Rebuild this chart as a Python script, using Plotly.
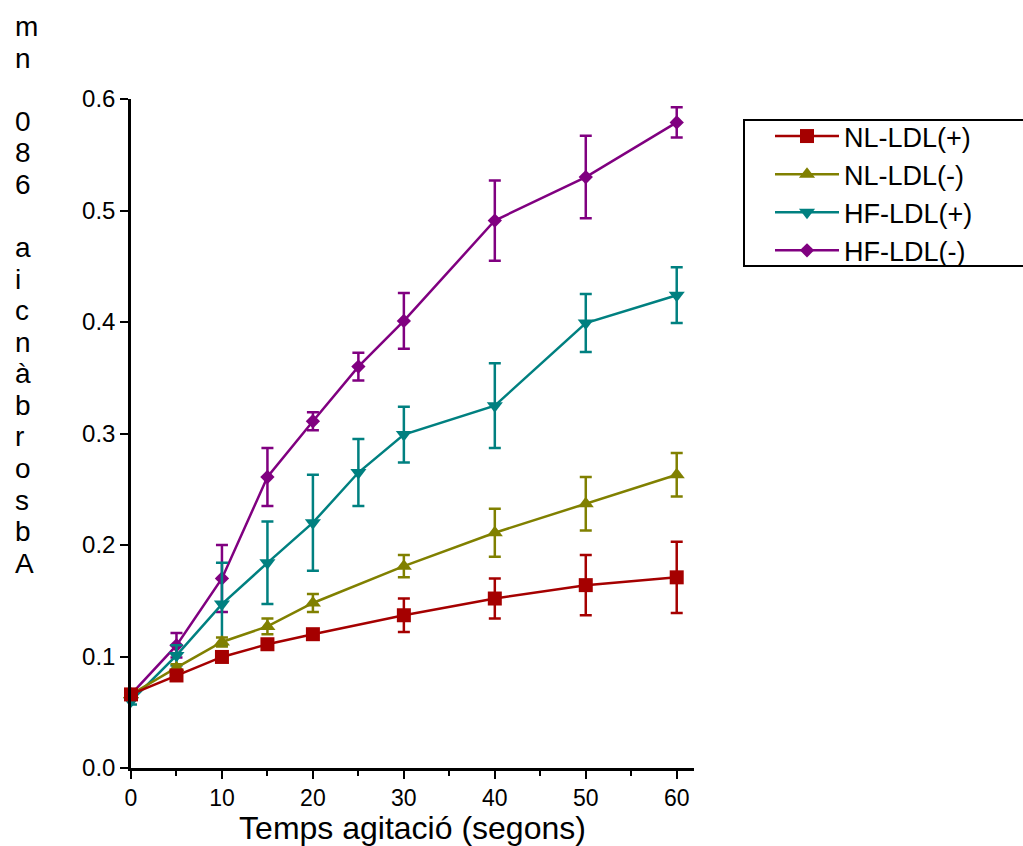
import plotly.graph_objects as go

# ---- data ----
x_nl = [0, 5, 10, 15, 20, 30, 40, 50, 60]
x_hf = [0, 5, 10, 15, 20, 25, 30, 40, 50, 60]

nl_pos = [0.066, 0.083, 0.0996, 0.111, 0.120, 0.137, 0.152, 0.164, 0.171]
nl_pos_err = [0.003, 0.003, 0.003, 0.003, 0.004, 0.015, 0.018, 0.027, 0.032]

nl_neg = [0.066, 0.090, 0.113, 0.127, 0.148, 0.181, 0.211, 0.237, 0.263]
nl_neg_err = [0.003, 0.003, 0.004, 0.007, 0.008, 0.010, 0.0215, 0.024, 0.0195]

hf_pos = [0.060, 0.101, 0.147, 0.184, 0.220, 0.265, 0.299, 0.325, 0.399, 0.424]
hf_pos_err = [0.003, 0.009, 0.037, 0.037, 0.043, 0.030, 0.025, 0.038, 0.026, 0.025]

hf_neg = [0.066, 0.110, 0.170, 0.261, 0.311, 0.360, 0.401, 0.491, 0.530, 0.579]
hf_neg_err = [0.003, 0.011, 0.030, 0.026, 0.008, 0.0125, 0.025, 0.036, 0.037, 0.0135]

names = ["NL-LDL(+)", "NL-LDL(-)", "HF-LDL(+)", "HF-LDL(-)"]
colors = ["#a50000", "#808000", "#008080", "#800080"]
symbols = ["square", "triangle-up", "triangle-down", "diamond"]
msizes = [14, 14, 14, 11]

y_title_chars = ["m", "n", " ", "0", "8", "6", " ", "a", "i", "c", "n", "à", "b", "r", "o", "s", "b", "A"]
x_title = "Temps agitació (segons)"

FONT = "Liberation Sans, Arial, sans-serif"

series = [
    (x_nl, nl_pos, nl_pos_err),
    (x_nl, nl_neg, nl_neg_err),
    (x_hf, hf_pos, hf_pos_err),
    (x_hf, hf_neg, hf_neg_err),
]

fig = go.Figure()
# draw in reverse so NL-LDL(+) is on top; legend reversed to keep order
for i in reversed(range(4)):
    xs, ys, es = series[i]
    fig.add_trace(go.Scatter(
        x=xs, y=ys, name=names[i], mode="lines+markers",
        line=dict(color=colors[i], width=2.5),
        marker=dict(symbol=symbols[i], size=msizes[i], color=colors[i],
                    line=dict(width=0)),
        error_y=dict(type="data", array=es, visible=True, color=colors[i],
                     thickness=2.5, width=6),
        cliponaxis=False,
    ))

L, R, T, B = 131, 694, 99, 768
W, H = 1023, 846


def px_x(p):
    return (p - L) / (R - L)


def px_y(p):
    return (B - p) / (B - T)


fig.update_layout(
    width=W, height=H,
    margin=dict(l=L, r=W - R, t=T, b=H - B, pad=0, autoexpand=False),
    paper_bgcolor="white", plot_bgcolor="white",
    font=dict(family=FONT, color="black"),
    showlegend=True,
    legend=dict(
        x=px_x(770), y=px_y(112),
        xanchor="left", yanchor="top",
        borderwidth=0,
        font=dict(size=27, family=FONT),
        traceorder="reversed",
        itemwidth=64,
        bgcolor="rgba(0,0,0,0)",
    ),
    xaxis=dict(
        range=[0, 61.9], dtick=10, tick0=0,
        showline=True, linecolor="black", linewidth=2.5,
        ticks="outside", ticklen=8, tickwidth=2, tickcolor="black",
        minor=dict(dtick=5, ticks="outside", ticklen=5, tickwidth=2, tickcolor="black"),
        showgrid=False, zeroline=False, automargin=False,
        tickfont=dict(size=23, family=FONT),
        title=dict(text=x_title, font=dict(size=32, family=FONT), standoff=11),
    ),
    yaxis=dict(
        range=[0, 0.6], dtick=0.1, tick0=0, tickformat=".1f",
        showline=True, linecolor="black", linewidth=2.5,
        ticks="outside", ticklen=8, tickwidth=2, tickcolor="black",
        showgrid=False, zeroline=False, automargin=False,
        tickfont=dict(size=24, family=FONT),
    ),
)

# legend frame (extends past the right edge as in the original)
fig.add_shape(type="rect", xref="paper", yref="paper",
              x0=px_x(744), x1=px_x(1035), y0=px_y(120), y1=px_y(266),
              line=dict(color="black", width=2), fillcolor="rgba(0,0,0,0)",
              layer="above")

# stacked-letter y-axis title
baseline0, step, fsize = 36, 31.55, 28
for k, ch in enumerate(y_title_chars):
    if ch.strip() == "":
        continue
    fig.add_annotation(
        text=ch, xref="paper", yref="paper",
        x=px_x(13), y=px_y(baseline0 + k * step - 0.33 * fsize),
        xanchor="left", yanchor="middle", align="left",
        showarrow=False,
        font=dict(size=fsize, family=FONT, color="black"),
    )

fig.write_html("out.html")
